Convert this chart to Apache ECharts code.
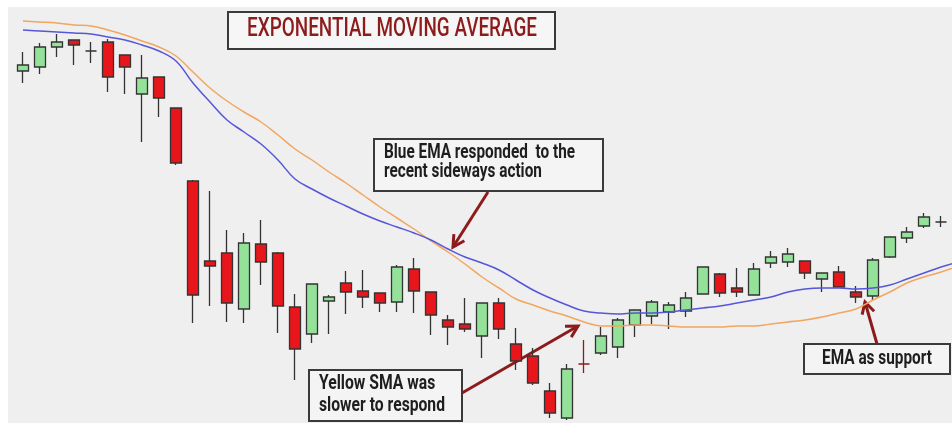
<!DOCTYPE html>
<html>
<head>
<meta charset="utf-8">
<script src="https://cdn.jsdelivr.net/npm/echarts@6/dist/echarts.min.js"></script>
<style>
    html, body { margin: 0; padding: 0; background: #ffffff; }
    #paper { position: absolute; left: 8px; top: 7px; right: 0; bottom: 0; background: #efefef; }
    #chart { position: absolute; left: 0; top: 0; width: 952px; height: 423px; }
</style>
</head>
<body>
<div id="paper"></div>
<div id="chart"></div>
<script>
    // candles (price units)
    const opens  = [379, 383, 403, 410, 399, 408, 395, 356, 373, 342, 269, 189, 197, 141, 206, 197, 143, 116, 149, 167,
                    159, 157, 148, 181, 158, 130, 126, 114, 147, 106, 94, 59, 32, 86, 97, 103, 125, 134, 138, 139,
                    156, 176, 162, 155, 187, 188, 189, 171, 178, 158, 154, 193, 212, 224, 228];
    const closes = [385, 403, 408, 405, 399, 373, 383, 372, 352, 287, 155, 184, 147, 207, 188, 144, 101, 166, 153, 158,
                    153, 147, 183, 159, 135, 123, 121, 147, 121, 89, 67, 37, 81, 86, 114, 130, 140, 148, 145, 152,
                    183, 157, 158, 181, 193, 196, 177, 177, 163, 153, 190, 213, 218, 233, 228];
    const lows   = [367, 376, 393, 385, 387, 358, 356, 308, 333, 285, 127, 144, 128, 127, 165, 117, 70, 107, 116, 136,
                    142, 138, 138, 137, 115, 105, 118, 92, 111, 80, 65, 32, 30, 77, 95, 92, 113, 126, 121, 133,
                    156, 153, 153, 155, 182, 183, 171, 158, 163, 147, 150, 192, 207, 222, 223];
    const highs  = [398, 407, 416, 410, 408, 411, 395, 395, 373, 342, 270, 259, 220, 217, 230, 198, 156, 166, 155, 179,
                    180, 157, 185, 192, 158, 135, 152, 147, 152, 122, 102, 67, 86, 110, 123, 132, 140, 150, 148, 158,
                    183, 177, 182, 187, 199, 202, 189, 177, 184, 164, 192, 213, 223, 237, 234];

    // moving averages (one more point than candles, runs off the right edge)
    const ema = [420, 419, 418, 417, 416, 413, 410, 405, 399, 389, 367, 348, 330, 318, 306, 290, 271, 261, 252, 244,
                 236, 229, 223, 217, 210, 201, 193, 187, 180, 170, 160, 152, 145, 139, 137, 136, 137, 137, 138, 140,
                 142, 144, 147, 150, 153, 158, 161, 162, 162, 161, 162, 165, 171, 177, 183, 188];
    const sma = [429, 428, 427, 425, 424, 420, 415, 409, 403, 394, 378, 362, 349, 338, 328, 315, 301, 290, 278, 267,
                 255, 243, 232, 221, 209, 198, 186, 173, 162, 151, 145, 139, 134, 128, 124, 124, 125, 125, 124, 123,
                 123, 123, 124, 124, 126, 128, 130, 133, 137, 141, 150, 158, 167, 173, 178, 184];

    const dojiRed = 33; // the cross drawn in dark red

    const days = ema.map((v, i) => 'Day ' + (i + 1));
    const candles = opens.map((o, i) => {
        const item = {value: [o, closes[i], lows[i], highs[i]]};
        if (i === dojiRed) {
            item.itemStyle = {borderColor: '#8c1c1c', borderColor0: '#8c1c1c', borderColorDoji: '#8c1c1c'};
        }
        return item;
    });

    const darkRed = '#8c1c1c';
    const ink = '#1e1e1e';

    // squeeze text horizontally so it looks like the condensed face in the picture
    const measurer = document.createElement('canvas').getContext('2d');
    function squeeze(lines, font, width) {
        measurer.font = font;
        const w = Math.max(...lines.map(l => measurer.measureText(l).width));
        return width / w;
    }

    function textBlock(lines, left, firstY, gap, font, fill, width) {
        const s = squeeze(lines, font, width);
        return lines.map((l, k) => ({
            type: 'text',
            x: left,
            y: firstY + k * gap,
            scaleX: s,
            style: {text: l, x: 0, y: 0, font: font, fill: fill, verticalAlign: 'middle', align: 'left'}
        }));
    }

    function box(x, y, w, h, fill) {
        return {type: 'rect', shape: {x: x, y: y, width: w, height: h},
            style: {fill: fill, stroke: '#3a3a3a', lineWidth: 2}};
    }

    function arrow(x1, y1, x2, y2) {
        const a = Math.atan2(y2 - y1, x2 - x1);
        const len = 13, spread = 0.5;
        const wing = d => [x2 - len * Math.cos(a + d), y2 - len * Math.sin(a + d)];
        return [
            {type: 'line', shape: {x1: x1, y1: y1, x2: x2, y2: y2}, style: {stroke: darkRed, lineWidth: 3}},
            {type: 'polyline', shape: {points: [wing(spread), [x2, y2], wing(-spread)]},
                style: {stroke: darkRed, lineWidth: 3, fill: null}}
        ];
    }

    const boxFont = 'bold 21px Roboto';
    const graphics = [].concat(
        box(228, 12, 327, 37, '#f6f6f6'),
        textBlock(['EXPONENTIAL MOVING AVERAGE'], 247, 30, 0, '500 25px Roboto', darkRed, 290),
        box(374, 139, 229, 52, '#f4f4f4'),
        textBlock(['Blue EMA responded  to the', 'recent sideways action'], 384, 153, 19, boxFont, ink, 191),
        box(309, 370, 153, 51, '#f4f4f4'),
        textBlock(['Yellow SMA was', 'slower to respond'], 319, 384, 22, boxFont, ink, 126),
        box(804, 344, 146, 30, '#f4f4f4'),
        textBlock(['EMA as support'], 822, 359, 0, 'bold 20px Roboto', ink, 110),
        arrow(488, 192, 453, 247),
        arrow(462, 393, 578, 326),
        arrow(877, 344, 865, 302)
    );

    const chart = echarts.init(document.getElementById('chart'));
    chart.setOption({
        backgroundColor: 'transparent',
        animation: false,
        grid: {left: 14.5, top: 0, width: 952, height: 423, outerBoundsMode: 'none', containLabel: false},
        xAxis: {type: 'category', data: days, boundaryGap: true, show: false},
        yAxis: {type: 'value', min: 27, max: 450, show: false},
        series: [{
            name: 'Price',
            type: 'candlestick',
            data: candles,
            barWidth: 11,
            itemStyle: {
                color: '#94e29a',
                color0: '#e8161b',
                borderColor: '#333333',
                borderColor0: '#333333',
                borderColorDoji: '#333333',
                borderWidth: 1.3
            }
        }, {
            name: 'SMA',
            type: 'line',
            data: sma,
            smooth: 0.4,
            symbol: 'none',
            lineStyle: {color: '#f2a65e', width: 1.5}
        }, {
            name: 'EMA',
            type: 'line',
            data: ema,
            smooth: 0.4,
            symbol: 'none',
            lineStyle: {color: '#5656d8', width: 1.5}
        }],
        graphic: graphics
    });
</script>
</body>
</html>
